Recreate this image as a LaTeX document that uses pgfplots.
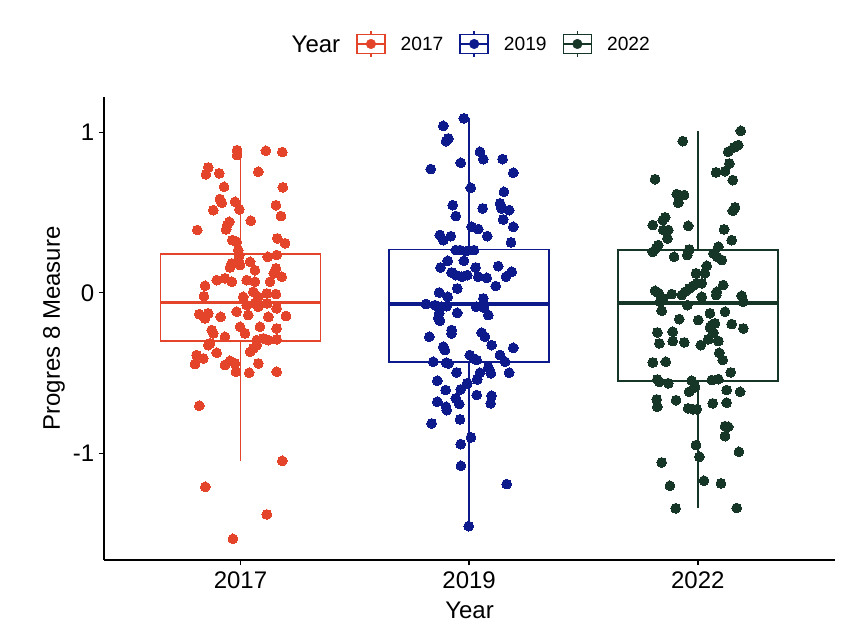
\documentclass[border=0pt]{standalone}
\usepackage{fontspec}
\setmainfont{Liberation Sans}
\usepackage{pgfplots}
\usepackage{pgfplotstable}
\pgfplotsset{compat=1.18}
\usepgfplotslibrary{statistics}
\definecolor{cA}{RGB}{228,68,42}
\definecolor{cB}{RGB}{12,26,140}
\definecolor{cC}{RGB}{22,54,40}

\pgfplotstableread{
x y
0.985 0.889
0.985 0.858
1.111 0.885
1.183 0.877
0.859 0.781
0.849 0.738
0.907 0.744
1.078 0.754
0.928 0.660
1.185 0.657
0.910 0.584
0.918 0.561
0.976 0.567
0.881 0.515
0.995 0.520
1.155 0.546
1.177 0.478
0.951 0.442
0.942 0.422
0.937 0.395
1.045 0.449
0.811 0.391
0.964 0.328
0.983 0.318
1.161 0.339
1.195 0.308
0.990 0.266
0.995 0.235
1.119 0.224
1.158 0.235
0.990 0.204
0.962 0.183
0.954 0.158
0.998 0.173
1.042 0.193
1.063 0.141
1.155 0.152
1.146 0.121
1.180 0.100
0.896 0.079
0.932 0.090
0.962 0.069
1.027 0.079
1.063 0.069
1.129 0.069
0.845 0.044
1.056 0.006
1.078 -0.025
1.115 -0.004
1.155 -0.008
0.840 -0.021
1.012 -0.025
1.027 -0.077
1.063 -0.066
1.078 -0.087
1.117 -0.066
0.820 -0.133
0.859 -0.128
0.845 -0.160
0.913 -0.150
0.983 -0.118
1.034 -0.139
1.158 -0.097
1.122 -0.150
1.199 -0.145
0.874 -0.232
0.881 -0.253
0.998 -0.212
1.020 -0.253
1.085 -0.212
1.158 -0.222
0.932 -0.274
1.071 -0.295
1.100 -0.284
1.122 -0.295
1.158 -0.290
0.867 -0.315
0.808 -0.388
0.837 -0.409
0.859 -0.326
0.896 -0.374
0.801 -0.444
0.932 -0.450
0.954 -0.424
0.976 -0.440
0.980 -0.492
1.042 -0.368
1.056 -0.346
1.071 -0.326
1.078 -0.440
1.038 -0.498
1.158 -0.492
0.820 -0.704
1.183 -1.047
0.846 -1.209
1.115 -1.381
0.967 -1.533
}\ptsA

\pgfplotstableread{
x y
1.977 1.087
1.887 1.040
1.909 0.962
1.899 0.945
2.047 0.879
2.062 0.833
2.146 0.833
1.963 0.810
1.832 0.771
2.193 0.748
2.007 0.654
2.152 0.629
1.928 0.546
2.059 0.526
2.135 0.557
2.142 0.526
2.175 0.515
1.942 0.478
2.149 0.457
2.193 0.411
2.011 0.411
2.040 0.397
1.872 0.360
1.887 0.328
1.920 0.353
2.079 0.353
2.183 0.314
1.942 0.266
1.960 0.266
1.989 0.260
2.021 0.266
1.906 0.199
1.977 0.199
1.875 0.158
2.028 0.158
2.127 0.166
1.923 0.127
1.942 0.110
1.967 0.100
1.992 0.110
2.040 0.100
2.077 0.093
2.161 0.100
2.186 0.131
1.948 0.027
2.116 0.042
1.869 0.002
1.906 -0.025
1.811 -0.070
1.850 -0.077
1.880 -0.087
1.902 -0.083
2.062 -0.035
2.030 -0.087
2.065 -0.093
1.948 -0.125
1.869 -0.128
1.865 -0.156
2.084 -0.139
1.872 -0.174
1.923 -0.232
1.923 -0.253
1.826 -0.274
2.055 -0.249
2.069 -0.274
1.887 -0.336
1.894 -0.357
2.098 -0.326
2.193 -0.343
2.135 -0.388
1.843 -0.430
1.899 -0.436
1.909 -0.440
2.003 -0.388
2.018 -0.409
2.033 -0.419
2.157 -0.430
1.945 -0.496
2.084 -0.465
2.095 -0.502
2.175 -0.498
2.047 -0.498
2.035 -0.540
1.861 -0.548
1.992 -0.564
1.963 -0.602
1.897 -0.606
2.033 -0.637
2.098 -0.642
2.094 -0.689
1.861 -0.679
1.942 -0.658
1.957 -0.693
1.899 -0.710
1.902 -0.731
1.960 -0.789
1.836 -0.814
2.008 -0.901
1.963 -0.943
1.964 -1.078
2.164 -1.192
1.998 -1.454
}\ptsB

\pgfplotstableread{
x y
3.188 1.009
2.934 0.945
3.177 0.920
3.158 0.906
3.133 0.879
3.138 0.806
3.119 0.758
3.080 0.750
3.153 0.702
2.813 0.708
2.908 0.615
2.940 0.609
2.915 0.561
3.163 0.532
3.153 0.511
2.857 0.470
2.847 0.453
2.803 0.422
2.958 0.417
2.849 0.391
2.871 0.391
2.867 0.339
3.115 0.395
3.148 0.328
2.827 0.297
2.817 0.277
2.803 0.255
2.963 0.270
2.954 0.235
3.090 0.287
3.068 0.245
3.085 0.224
3.105 0.204
2.896 0.224
3.039 0.168
3.031 0.121
2.992 0.121
3.017 0.059
2.998 0.059
2.980 0.044
2.963 0.027
2.944 0.006
2.930 -0.014
3.111 0.048
2.813 0.012
2.827 0.000
2.886 -0.008
2.849 -0.035
2.835 -0.056
3.083 0.006
3.080 -0.014
3.017 -0.025
3.192 -0.019
3.199 -0.056
2.954 -0.077
2.842 -0.112
3.053 -0.128
3.119 -0.118
2.919 -0.164
3.002 -0.170
3.061 -0.201
3.075 -0.191
3.053 -0.216
3.068 -0.249
3.148 -0.195
3.199 -0.222
2.823 -0.247
2.890 -0.243
2.832 -0.315
2.890 -0.301
2.941 -0.309
3.013 -0.326
3.046 -0.290
3.090 -0.301
3.094 -0.374
3.109 -0.419
2.803 -0.434
2.860 -0.430
3.144 -0.496
2.823 -0.540
2.832 -0.555
2.871 -0.564
2.973 -0.548
2.988 -0.589
2.962 -0.617
3.061 -0.544
3.090 -0.538
3.126 -0.606
3.185 -0.617
2.820 -0.664
2.823 -0.710
2.905 -0.669
2.958 -0.720
2.980 -0.726
2.995 -0.726
3.065 -0.689
3.126 -0.685
3.119 -0.831
3.133 -0.835
3.119 -0.893
2.992 -0.949
3.007 -1.022
3.180 -0.991
2.842 -1.057
3.027 -1.171
3.101 -1.188
2.878 -1.202
2.903 -1.343
3.170 -1.341
}\ptsC

\pgfplotsset{
  boxkey/.style={legend image code/.code={
    \draw[line width=1.5pt] (0pt,-9.5pt) rectangle (28pt,9.5pt);
    \draw[line width=1.5pt] (0pt,0pt) -- (28pt,0pt);
    \draw[line width=1.5pt] (14pt,9.5pt) -- (14pt,13pt);
    \draw[line width=1.5pt] (14pt,-9.5pt) -- (14pt,-13pt);
    \fill (14pt,0pt) circle (4.8pt);
  }},
}

\begin{document}
\begin{tikzpicture}
\path[use as bounding box] (0pt,0pt) rectangle (844pt,640pt);
\begin{axis}[
  at={(104pt,80pt)}, anchor=south west,
  width=731pt, height=463pt, scale only axis,
  xmin=0.403, xmax=3.6, ymin=-1.665, ymax=1.22,
  axis x line*=bottom, axis y line*=left,
  axis line style={line width=1.4pt, black, -},
  xtick={1,2,3}, xticklabels={2017,2019,2022},
  ytick={-1,0,1}, yticklabels={-1,0,1},
  tick align=outside, major tick length=5pt,
  tick style={line width=1.4pt, black},
  tick label style={font=\fontsize{24}{28}\selectfont, text=black},
  xticklabel style={inner sep=0pt, yshift=-6.4pt},
  yticklabel style={inner sep=0pt, xshift=-4.6pt},
  xlabel={Year}, ylabel={Progres 8 Measure},
  label style={font=\fontsize{24}{28}\selectfont},
  xlabel style={at={(axis description cs:0.5,-0.1259)}, anchor=base},
  ylabel style={at={(axis description cs:-0.0602,0.5)}, anchor=base},
  clip=false,
  boxplot/draw direction=y,
  legend columns=4,
  legend style={at={(0.236,1.1145)}, anchor=west, draw=none, fill=none,
    inner sep=0pt,
    nodes={inner sep=0pt, text depth=0pt, font=\fontsize{19.2}{23}\selectfont},
    /tikz/every odd column/.append style={column sep=15pt},
    /tikz/every even column/.append style={column sep=16pt}},
]
\addlegendimage{empty legend}\addlegendentry{\fontsize{24}{28}\selectfont Year}
\addlegendimage{boxkey, color=cA}\addlegendentry{2017}
\addlegendimage{boxkey, color=cB}\addlegendentry{2019}
\addlegendimage{boxkey, color=cC}\addlegendentry{2022}

\addplot[forget plot, draw=cA, line width=1.8pt, fill=white, mark=none,
  boxplot/draw direction=y,
  boxplot/every median/.style={line width=3.8pt},
  boxplot prepared={draw position=1, lower whisker=-1.047, lower quartile=-0.301,
    median=-0.060, upper quartile=0.240, upper whisker=0.889,
    box extend=0.7, whisker extend=0}] coordinates {};
\addplot[forget plot, draw=cB, line width=1.8pt, fill=white, mark=none,
  boxplot/draw direction=y,
  boxplot/every median/.style={line width=3.8pt},
  boxplot prepared={draw position=2, lower whisker=-1.454, lower quartile=-0.430,
    median=-0.072, upper quartile=0.270, upper whisker=1.087,
    box extend=0.7, whisker extend=0}] coordinates {};
\addplot[forget plot, draw=cC, line width=1.8pt, fill=white, mark=none,
  boxplot/draw direction=y,
  boxplot/every median/.style={line width=3.8pt},
  boxplot prepared={draw position=3, lower whisker=-1.343, lower quartile=-0.550,
    median=-0.066, upper quartile=0.266, upper whisker=1.009,
    box extend=0.7, whisker extend=0}] coordinates {};

\addplot[forget plot, only marks, mark=*, mark size=4.9pt,
  mark options={draw=cA, fill=cA, line width=0pt}] table {\ptsA};
\addplot[forget plot, only marks, mark=*, mark size=4.9pt,
  mark options={draw=cB, fill=cB, line width=0pt}] table {\ptsB};
\addplot[forget plot, only marks, mark=*, mark size=4.9pt,
  mark options={draw=cC, fill=cC, line width=0pt}] table {\ptsC};
\end{axis}
\end{tikzpicture}
\end{document}
